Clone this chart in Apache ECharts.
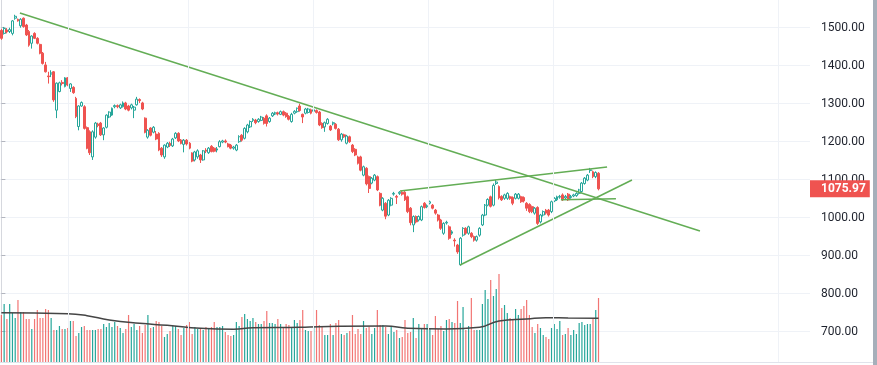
<!DOCTYPE html>
<html><head><meta charset="utf-8">
<script src="https://cdn.jsdelivr.net/npm/echarts@6/dist/echarts.min.js"></script>
<style>html,body{margin:0;padding:0;background:#fff}#c{width:877px;height:365px}</style>
</head><body><div id="c"></div>
<script>
// ---- data ----
const opens = [1493,1485,1494,1490,1485,1525,1522,1505,1525,1507,
1490,1459,1485,1472,1456,1433,1402,1373,1378,1384,
1283,1332,1356,1345,1368,1340,1343,1314,1240,1294,
1292,1237,1226,1160,1212,1246,1249,1218,1238,1265,
1270,1292,1295,1289,1292,1302,1294,1289,1283,1297,
1311,1302,1262,1212,1236,1225,1220,1222,1183,1160,
1186,1196,1189,1210,1222,1204,1193,1204,1196,1170,
1152,1160,1165,1152,1178,1171,1188,1183,1178,1187,
1199,1202,1194,1191,1183,1178,1200,1217,1209,1226,
1239,1256,1257,1253,1256,1262,1268,1253,1268,1273,
1276,1272,1279,1275,1267,1253,1275,1279,1294,1272,
1275,1277,1284,1280,1282,1278,1248,1239,1248,1241,
1247,1246,1233,1205,1218,1196,1213,1191,1180,1160,
1160,1112,1130,1108,1091,1099,1108,1064,1020,1038,
1007,1033,1062,1056,1064,1067,1067,1055,1025,981,
1003,994,994,1038,1029,1038,1033,1020,1007,994,
959,986,976,959,941,928,876,954,972,959,
959,950,941,954,981,1007,1033,1055,1033,1090,
1082,1056,1051,1051,1055,1053,1051,1051,1055,1053,
1038,1035,1029,1012,1027,989,1007,1020,1020,1016,
1044,1047,1054,1060,1052,1062,1053,1057,1058,1064,
1069,1090,1099,1124,1121,1108,1117];
const closes = [1472,1498,1489,1495,1518,1530,1518,1522,1503,1481,
1454,1478,1472,1459,1433,1406,1384,1371,1381,1310,
1354,1355,1353,1368,1349,1352,1329,1266,1294,1303,
1235,1183,1171,1226,1249,1243,1218,1236,1270,1278,
1288,1295,1292,1297,1302,1286,1283,1297,1291,1312,
1308,1286,1225,1230,1217,1238,1207,1178,1165,1191,
1196,1190,1207,1222,1202,1196,1204,1194,1183,1149,
1173,1176,1152,1176,1175,1183,1174,1175,1181,1200,
1202,1199,1187,1183,1186,1191,1213,1204,1235,1244,
1253,1259,1250,1259,1265,1248,1248,1262,1275,1276,
1273,1279,1270,1266,1259,1272,1280,1288,1282,1265,
1286,1286,1275,1284,1277,1244,1237,1250,1259,1231,
1250,1235,1205,1220,1213,1215,1200,1174,1165,1143,
1125,1134,1089,1077,1104,1112,1073,1033,1051,1004,
1046,1051,1064,1054,1067,1062,1047,1016,987,1003,
989,1003,1029,1027,1031,1042,1025,1012,994,972,
985,988,946,963,939,910,946,972,959,976,
950,941,950,972,1007,1033,1048,1030,1085,1094,
1052,1047,1060,1064,1051,1038,1062,1062,1042,1044,
1025,1016,1016,1025,985,1007,1016,1012,1007,1042,
1051,1055,1056,1047,1056,1047,1056,1060,1064,1073,
1091,1104,1112,1126,1108,1119,1075.97];
const lows = [1468,1482,1485,1486,1480,1521,1516,1500,1500,1478,
1450,1445,1470,1456,1430,1403,1382,1353,1370,1305,
1262,1330,1348,1343,1346,1331,1326,1262,1230,1292,
1232,1180,1165,1152,1208,1238,1215,1204,1235,1262,
1268,1288,1288,1286,1290,1283,1280,1285,1262,1295,
1302,1283,1222,1208,1214,1222,1204,1175,1160,1155,
1183,1186,1186,1207,1199,1193,1172,1190,1180,1146,
1148,1155,1144,1150,1170,1168,1172,1172,1172,1185,
1196,1196,1185,1180,1179,1175,1197,1200,1206,1222,
1236,1252,1246,1250,1254,1245,1240,1250,1265,1270,
1269,1270,1267,1263,1256,1250,1272,1276,1279,1249,
1272,1274,1272,1277,1274,1241,1234,1226,1245,1228,
1243,1232,1202,1200,1210,1193,1197,1170,1162,1140,
1122,1109,1085,1065,1088,1096,1070,1030,1017,996,
1004,1030,1058,1036,1060,1058,1044,1012,980,962,
985,990,991,1024,1025,1035,1022,1008,990,968,
955,982,942,955,924,905,874,950,955,955,
946,937,937,950,978,1004,1030,1027,1030,1086,
1048,1044,1047,1047,1047,1033,1048,1048,1039,1040,
1018,1012,1012,1008,981,985,1003,1008,1003,1012,
1041,1044,1050,1044,1048,1044,1050,1054,1055,1061,
1066,1087,1096,1118,1104,1104,1072];
const highs = [1497,1502,1499,1500,1520,1534,1524,1525,1527,1510,
1494,1480,1488,1475,1458,1436,1410,1384,1388,1386,
1356,1358,1362,1370,1370,1354,1346,1318,1296,1306,
1296,1240,1230,1230,1252,1250,1252,1238,1272,1280,
1290,1298,1298,1300,1306,1305,1297,1300,1294,1318,
1314,1305,1264,1233,1238,1241,1228,1225,1186,1193,
1199,1200,1210,1225,1225,1207,1207,1207,1199,1172,
1176,1180,1168,1178,1183,1186,1191,1186,1186,1204,
1205,1206,1197,1194,1189,1194,1217,1220,1238,1247,
1256,1262,1260,1262,1268,1265,1272,1265,1278,1279,
1279,1282,1282,1278,1270,1276,1283,1290,1300,1274,
1289,1289,1287,1287,1285,1281,1251,1253,1262,1244,
1253,1249,1236,1223,1221,1218,1216,1194,1183,1163,
1163,1137,1133,1111,1107,1115,1111,1067,1054,1041,
1049,1054,1068,1060,1070,1070,1070,1058,1028,1006,
1006,1006,1032,1041,1035,1045,1036,1023,1010,997,
988,992,980,967,946,931,949,975,975,979,
962,953,953,975,1010,1036,1051,1058,1090,1099,
1085,1059,1063,1067,1058,1056,1065,1065,1058,1056,
1041,1038,1032,1028,1030,1010,1019,1023,1023,1045,
1054,1058,1060,1064,1060,1065,1060,1063,1067,1076,
1094,1107,1115,1131,1124,1122,1120];
const volumes = [47,58,43,58,49,44,62,50,50,43,43,33,43,52,44,44,53,52,44,32,32,
36,33,33,34,41,41,26,29,35,36,32,32,32,32,33,33,38,35,39,35,40,36,34,29,33,47,35,38,32,36,
29,37,47,34,35,41,40,36,25,28,31,36,36,33,27,34,37,40,28,35,33,33,32,35,34,35,40,35,35,36,30,27,26,27,40,
36,45,48,43,41,44,40,38,38,41,51,39,39,38,43,38,35,38,37,35,42,39,
42,52,32,31,31,35,52,37,35,27,27,38,27,39,42,28,27,29,31,47,28,33,28,41,34,35,28,34,52,37,
37,35,28,35,30,32,24,25,42,29,30,44,24,38,34,38,38,33,27,46,33,36,31,42,43,40,39,61,39,55,32,36,
64,32,32,32,58,72,63,82,66,73,88,54,57,49,44,43,53,47,53,56,62,47,35,29,38,34,27,25,23,34,
38,33,41,27,28,34,27,32,28,39,40,37,38,38,44,52,64];
// volume moving average, read at [bar index, value]
const volMA = [[0,49.3],[24,48.3],[31,46.3],[39,42],[50,38.7],[60,36.7],[72,33.7],[84,32.7],[91,34.3],[108,34.7],
[115,35.3],[139,36],[147,33.7],[161,33],[173,34.7],[180,41],[190,43],[197,44.3],[205,44],[216,43.7]];
// trend lines drawn on the chart: [bar index, price]
const trendDown = [[6.7,1538.7],[252.7,964.9]];
const trendUpper = [[144.2,1070.2],[219.1,1133.4]];
const trendLower = [[165.9,875.5],[228.1,1099.2]];
const trendFlat = [[202.4,1047],[222.3,1049.6]];
const timeGridIdx = [24.1,67.5,112.7,154.3,199.5,280.9];
const priceTicks = [700,800,900,1000,1100,1200,1300,1400,1500];
const lastPrice = 1075.97;

// ---- chart ----
const N_SLOTS = 293;
const cats = Array.from({length:N_SLOTS},(_,i)=>String(i));
const candle = opens.map((o,i)=>[o,closes[i],lows[i],highs[i]]);
const volData = volumes.map((v,i)=>({value:v,itemStyle:{color: closes[i]>=opens[i] ? '#26a69a' : 'rgba(239,83,80,0.8)'}}));
const trendStyle = {color:'#63ad55',width:1.5};
function trend(d){return {type:'line',xAxisIndex:1,yAxisIndex:0,data:d,symbol:'none',silent:true,z:4,lineStyle:trendStyle};}

const chart = echarts.init(document.getElementById('c'));
chart.setOption({
  animation:false,
  backgroundColor:'#ffffff',
  grid:[
    {left:0,right:67,top:-10.3,bottom:-4.7,outerBoundsMode:'none',containLabel:false},
    {left:0,right:67,top:262,bottom:3,outerBoundsMode:'none',containLabel:false},
    {left:0,right:67,top:0,bottom:3,outerBoundsMode:'none',containLabel:false}
  ],
  xAxis:[
    {type:'category',gridIndex:0,data:cats,boundaryGap:true,show:false},
    {type:'value',gridIndex:0,min:-0.5,max:N_SLOTS-0.5,show:false},
    {type:'category',gridIndex:1,data:cats,boundaryGap:true,show:false},
    {type:'value',gridIndex:1,min:-0.5,max:N_SLOTS-0.5,show:false},
    {type:'value',gridIndex:2,min:-0.5,max:N_SLOTS-0.5,show:false}
  ],
  yAxis:[
    {type:'value',gridIndex:0,position:'right',min:600,max:1600,interval:100,
     axisLine:{show:true,lineStyle:{color:'#d6d8de'}},
     axisTick:{show:true,length:4,lineStyle:{color:'#b2b5be'}},
     splitLine:{show:true,lineStyle:{color:'#eff2f7'}},
     axisLabel:{margin:11,color:'#1e222d',fontSize:12,fontFamily:'Roboto',
       formatter:v=>priceTicks.indexOf(v)>=0?v.toFixed(2):'',showMinLabel:false,showMaxLabel:false}},
    {type:'value',gridIndex:1,min:0,max:100,show:false},
    {type:'value',gridIndex:2,min:0,max:1,show:false}
  ],
  series:[
    {type:'line',xAxisIndex:4,yAxisIndex:2,data:[],z:0,silent:true,
     markLine:{silent:true,symbol:['none','none'],animation:false,label:{show:false},
       lineStyle:{color:'#eff2f7',type:'solid',width:1},
       data:timeGridIdx.map(v=>({xAxis:v}))}},
    {type:'bar',xAxisIndex:2,yAxisIndex:1,data:volData,barWidth:1.2,z:1,silent:true},
    {type:'line',xAxisIndex:3,yAxisIndex:1,data:volMA,smooth:true,symbol:'none',z:2,silent:true,
     lineStyle:{color:'#454545',width:1.5}},
    {type:'candlestick',xAxisIndex:0,yAxisIndex:0,data:candle,barWidth:2.4,z:3,silent:true,
     itemStyle:{color:'#ffffff',color0:'#ef5350',borderColor:'#26a69a',borderColor0:'#ef5350',borderWidth:1},
     markLine:{silent:true,symbol:['none','none'],animation:false,
       lineStyle:{color:'rgba(0,0,0,0)',width:0},
       label:{show:true,position:'end',distance:0,formatter:()=>lastPrice.toFixed(2),
         backgroundColor:'#ef5350',color:'#ffffff',fontWeight:'bold',fontSize:12,fontFamily:'Roboto',
         padding:[2,4,2,11],lineHeight:13},
       data:[{yAxis:lastPrice}]}},
    trend(trendDown),trend(trendUpper),trend(trendLower),trend(trendFlat)
  ],
  graphic:[
    {type:'rect',z:100,shape:{x:0,y:363,width:877,height:2},style:{fill:'#ffffff'}},
    {type:'line',z:101,shape:{x1:0,y1:362.5,x2:873,y2:362.5},style:{stroke:'#e0e3eb',lineWidth:1}},
    {type:'rect',z:102,shape:{x:873,y:0,width:4,height:365},style:{fill:'#a6afba'}}
  ]
});
</script>
</body></html>
